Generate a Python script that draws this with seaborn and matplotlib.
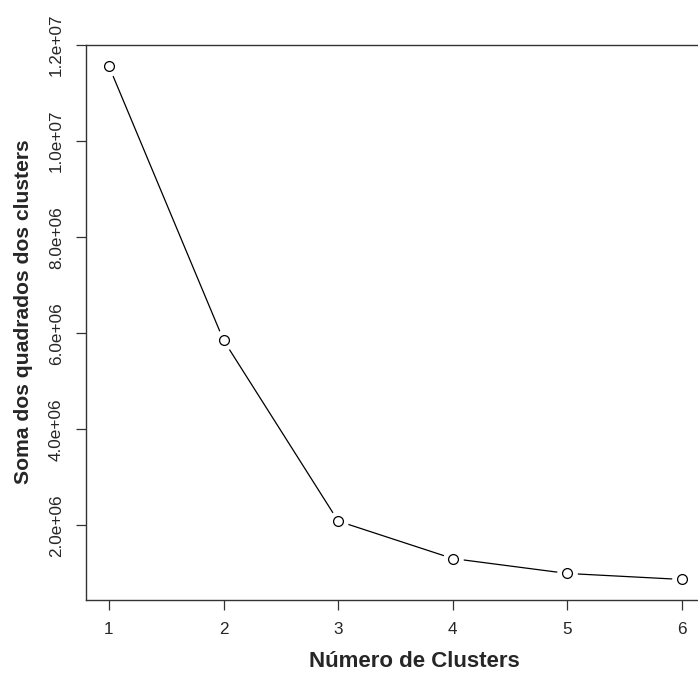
import numpy as np
import pandas as pd
import matplotlib
matplotlib.use("Agg")
import matplotlib.pyplot as plt
import seaborn as sns

# dados do cotovelo (k-means)
clusters = [1, 2, 3, 4, 5, 6]
soma_quadrados = [1.156e7, 5.854e6, 2.09e6, 1.31e6, 1.0e6, 0.875e6]
y_ticks = [2e6, 4e6, 6e6, 8e6, 1e7, 1.2e7]

df = pd.DataFrame({"k": clusters, "wss": soma_quadrados})

sns.set_style("ticks")
plt.rcParams['font.family'] = ['Liberation Sans', 'DejaVu Sans']

fig = plt.figure(figsize=(6.98, 6.75), dpi=100)
ax = fig.add_axes([86 / 698, 75 / 675, 619 / 698, 555 / 675])

sns.lineplot(data=df, x="k", y="wss", color="black", linewidth=0.9, ax=ax, zorder=2)
# gaps around the points, like R type="b"
ax.scatter(df["k"], df["wss"], s=220, color="white", zorder=3, linewidths=0)
ax.scatter(df["k"], df["wss"], s=50, facecolor="white", edgecolor="black", linewidths=0.9, zorder=4)

rng = max(soma_quadrados) - min(soma_quadrados)
ax.set_xlim(1 - 0.04 * 5, 6 + 0.04 * 5)
ax.set_ylim(min(soma_quadrados) - 0.04 * rng, max(soma_quadrados) + 0.04 * rng)

ax.set_xticks(clusters)
ax.set_xticklabels([str(c) for c in clusters], fontsize=12.3)
ax.set_yticks(y_ticks)
ax.set_yticklabels([f"{v:.1e}" for v in y_ticks], fontsize=12.3, rotation=90, va="center")

ax.tick_params(axis="both", length=7, width=0.9, color="#333333", pad=9)
for s in ax.spines.values():
    s.set_color("#333333")
    s.set_linewidth(1.0)
ax.spines["right"].set_visible(False)

ax.set_xlabel("Número de Clusters", fontsize=16, fontweight="bold", labelpad=10)
ax.set_ylabel("Soma dos quadrados dos clusters", fontsize=15.2, fontweight="bold", labelpad=11)
ax.xaxis.label.set_x(0.53)
ax.yaxis.label.set_y(0.519)

fig.savefig("out.png", dpi=100)
